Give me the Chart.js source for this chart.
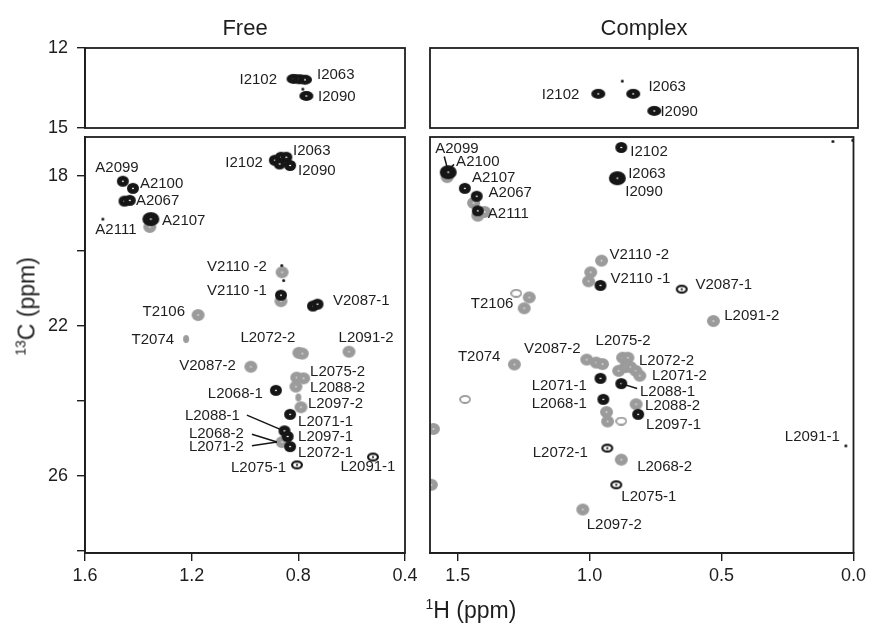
<!DOCTYPE html>
<html><head><meta charset="utf-8">
<script src="https://cdn.jsdelivr.net/npm/chart.js@4.4.0/dist/chart.umd.min.js"></script>
<style>
html,body{margin:0;padding:0;background:#fff}
#wrap{position:relative;width:870px;height:626px;overflow:hidden;background:#fff}
#wrap canvas{position:absolute;left:0;top:0}
.ax{position:absolute;font-family:'Liberation Sans',Arial,sans-serif;font-size:23px;color:#1e1e1e;white-space:nowrap;text-align:center;line-height:26px}
.ax sup{font-size:14px;vertical-align:0;position:relative;top:-9px}
</style></head><body>
<div id="wrap">
<canvas id="tl" width="870" height="626"></canvas>
<canvas id="bl" width="870" height="626"></canvas>
<canvas id="tr" width="870" height="626"></canvas>
<canvas id="br" width="870" height="626"></canvas>
<div class="ax" style="left:-72px;top:292px;width:200px;transform:rotate(-90deg)"><sup>13</sup>C (ppm)</div>
<div class="ax" style="left:371px;top:597px;width:200px"><sup>1</sup>H (ppm)</div>
</div>
<script>
// ---------- panel titles ----------
const panelTitles = ['Free', 'Complex'];

// ---------- axis ticks ----------
const topYTicks = [12, 15];
const bottomYTicks = [18, 20, 22, 24, 26, 28];
const bottomYLabeled = [18, 22, 26];
const freeXTicks = [1.6, 1.2, 0.8, 0.4];
const complexXTicks = [1.5, 1.0, 0.5, 0.0];

// ---------- peaks [1H ppm, 13C ppm] ----------
// Free, Ile region (12-15 ppm)
const freeTopBlack = [[0.818, 13.16], [0.797, 13.17], [0.775, 13.19], [0.77, 13.8]];
const freeTopDot = [[0.783, 13.54]];
// Complex, Ile region
const complexTopBlack = [[0.974, 13.72], [0.843, 13.72], [0.764, 14.36]];
const complexTopDot = [[0.884, 13.24]];

// Free, methyl region
const freeBlack = [
  [0.888, 17.58], [0.865, 17.5], [0.845, 17.5], [0.831, 17.72], [0.87, 17.68],
  [1.458, 18.14], [1.42, 18.33],
  [1.452, 18.67], [1.432, 18.65],
  [0.865, 21.18],
  [0.745, 21.47], [0.728, 21.42],
  [0.884, 23.72],
  [0.831, 24.36],
  [0.852, 24.8], [0.84, 24.95],
  [0.831, 25.22]
];
const freeBlackLarge = [[1.353, 19.15]];
const freeBlackRing = [[0.805, 25.71], [0.52, 25.5]];
const freeBlackDot = [[1.533, 19.15], [0.862, 20.39], [0.855, 20.79]];
const freeGray = [
  [1.357, 19.36], [0.861, 20.57], [0.865, 21.34], [1.176, 21.71],
  [0.798, 22.72], [0.785, 22.74], [0.61, 22.69], [0.978, 23.09],
  [0.806, 23.38], [0.78, 23.4], [0.809, 23.62], [0.79, 24.17],
  [0.861, 25.1]
];
const freeGraySmall = [[1.221, 22.35], [0.8, 23.91]];

// Complex, methyl region
const complexBlack = [
  [0.88, 17.24], [1.473, 18.33], [1.428, 18.54], [1.424, 18.93],
  [0.959, 20.92], [0.959, 23.4], [0.88, 23.54], [0.948, 23.96], [0.816, 24.36]
];
const complexBlackLarge = [[1.536, 17.9], [0.895, 18.06]];
const complexBlackRing = [[0.651, 21.02], [0.933, 25.26], [0.899, 26.24]];
const complexBlackDot = [[0.029, 25.2], [0.078, 17.08], [0.003, 17.05]];
const complexGray = [
  [1.54, 18.03], [1.44, 18.72], [1.398, 18.96], [1.424, 19.06],
  [0.955, 20.26], [0.996, 20.57], [1.004, 20.81],
  [1.229, 21.24], [1.248, 21.53], [0.531, 21.87], [1.285, 23.03],
  [1.011, 22.9], [0.975, 22.98], [0.951, 23.02],
  [0.875, 22.85], [0.855, 22.85], [0.865, 23.1], [0.845, 23.1], [0.825, 23.2], [0.81, 23.33], [0.89, 23.2],
  [0.824, 24.09], [0.936, 24.3], [0.932, 24.55],
  [0.88, 25.57], [1.026, 26.9], [1.592, 24.75], [1.6, 26.24]
];
const complexGrayRing = [[1.278, 21.13], [1.472, 23.96], [0.88, 24.54]];

// ---------- assignments [text, 1H, 13C, anchor] ----------
const freeTopLabels = [['I2102', 0.88, 13.16, 'right'], ['I2063', 0.73, 12.97, 'left'], ['I2090', 0.726, 13.8, 'left']];
const complexTopLabels = [['I2102', 1.045, 13.72, 'right'], ['I2063', 0.786, 13.42, 'left'], ['I2090', 0.741, 14.36, 'left']];
const freeLabels = [
  ['I2102', 0.933, 17.61, 'right'], ['I2063', 0.82, 17.29, 'left'], ['I2090', 0.801, 17.82, 'left'],
  ['A2099', 1.48, 17.74, 'center'], ['A2100', 1.394, 18.17, 'left'], ['A2067', 1.409, 18.64, 'left'],
  ['A2107', 1.311, 19.17, 'left'], ['A2111', 1.484, 19.41, 'center'],
  ['V2110 -2', 0.918, 20.39, 'right'], ['V2110 -1', 0.918, 21.02, 'right'], ['V2087-1', 0.67, 21.29, 'left'],
  ['T2106', 1.225, 21.58, 'right'], ['T2074', 1.266, 22.35, 'right'],
  ['L2072-2', 0.914, 22.29, 'center'], ['L2091-2', 0.546, 22.29, 'center'], ['V2087-2', 1.034, 23.03, 'right'],
  ['L2075-2', 0.756, 23.19, 'left'], ['L2088-2', 0.756, 23.62, 'left'], ['L2068-1', 0.933, 23.78, 'right'],
  ['L2097-2', 0.764, 24.04, 'left'], ['L2088-1', 1.019, 24.38, 'right'], ['L2071-1', 0.801, 24.54, 'left'],
  ['L2068-2', 1.004, 24.86, 'right'], ['L2097-1', 0.801, 24.94, 'left'], ['L2071-2', 1.004, 25.2, 'right'],
  ['L2072-1', 0.801, 25.36, 'left'], ['L2091-1', 0.539, 25.73, 'center'], ['L2075-1', 0.846, 25.76, 'right']
];
const freeLeaders = [[0.993, 24.38, 0.861, 24.78], [0.974, 24.89, 0.88, 25.1], [0.974, 25.2, 0.88, 25.1]];
const complexLabels = [
  ['A2099', 1.503, 17.24, 'center'], ['A2100', 1.506, 17.58, 'left'], ['A2107', 1.446, 18.03, 'left'],
  ['A2067', 1.383, 18.43, 'left'], ['A2111', 1.386, 18.99, 'left'],
  ['I2102', 0.846, 17.32, 'left'], ['I2063', 0.854, 17.9, 'left'], ['I2090', 0.865, 18.38, 'left'],
  ['V2110 -2', 0.925, 20.07, 'left'], ['V2110 -1', 0.921, 20.71, 'left'], ['V2087-1', 0.599, 20.87, 'left'],
  ['T2106', 1.289, 21.39, 'right'], ['L2091-2', 0.49, 21.71, 'left'], ['T2074', 1.338, 22.8, 'right'],
  ['V2087-2', 1.034, 22.58, 'right'], ['L2075-2', 0.873, 22.37, 'center'], ['L2072-2', 0.813, 22.9, 'left'],
  ['L2071-2', 0.764, 23.3, 'left'], ['L2071-1', 1.011, 23.56, 'right'], ['L2088-1', 0.809, 23.72, 'left'],
  ['L2068-1', 1.011, 24.04, 'right'], ['L2088-2', 0.79, 24.09, 'left'], ['L2097-1', 0.786, 24.62, 'left'],
  ['L2091-1', 0.156, 24.94, 'center'], ['L2072-1', 1.007, 25.36, 'right'], ['L2068-2', 0.82, 25.73, 'left'],
  ['L2075-1', 0.88, 26.53, 'left'], ['L2097-2', 1.011, 27.27, 'left']
];
const complexLeaders = [[1.551, 17.48, 1.54, 17.77], [1.514, 17.69, 1.529, 17.8], [0.88, 23.54, 0.82, 23.67]];

// ---------- rendering ----------
const FONT = "'Liberation Sans', Arial, sans-serif";
Chart.defaults.font.family = FONT;
Chart.defaults.color = '#1e1e1e';
Chart.defaults.animation = false;
const INK = '#161616', GRAY = '#9b9b9b', AXIS = '#1e1e1e';

function blob(w, h, color, kind) {
  const c = document.createElement('canvas');
  c.width = w + 2; c.height = h + 2;
  const g = c.getContext('2d');
  const cx = c.width / 2, cy = c.height / 2;
  g.beginPath(); g.ellipse(cx, cy, w / 2, h / 2, 0, 0, Math.PI * 2);
  if (kind === 'ring') {
    g.fillStyle = color; g.fill();
    g.beginPath(); g.ellipse(cx, cy, w / 2 - 2.2, h / 2 - 2.2, 0, 0, Math.PI * 2);
    g.fillStyle = '#fff'; g.fill();
    g.beginPath(); g.ellipse(cx, cy, 1.2, 1, 0, 0, Math.PI * 2); g.fillStyle = color; g.fill();
  } else if (kind === 'oring') {
    g.strokeStyle = color; g.lineWidth = 1.8; g.stroke();
  } else {
    g.fillStyle = color; g.fill();
    if (kind === 'dot') {
      g.beginPath(); g.ellipse(cx, cy, 1.1, 0.8, 0, 0, Math.PI * 2);
      g.fillStyle = color === INK ? '#fff' : '#e6e6e6'; g.fill();
    }
  }
  return c;
}
const S = {
  black: blob(12, 11, INK, 'dot'),
  blackLarge: blob(17, 14, INK, 'dot'),
  blackFlat: blob(14, 10, INK, 'dot'),
  blackRing: blob(12, 9, INK, 'ring'),
  blackDot: blob(3, 3, INK),
  gray: blob(13, 12, GRAY, 'dot'),
  grayRing: blob(10, 7, GRAY, 'oring'),
  graySmall: blob(6, 8, GRAY)
};

const pts = a => a.map(([x, y]) => ({ x, y }));
const ds = (arr, style, order) => ({ data: pts(arr), pointStyle: style, pointRadius: 6, order, showLine: false });

const frame = { id: 'frame', afterDraw(chart) {
  const a = chart.chartArea, g = chart.ctx;
  g.save(); g.strokeStyle = AXIS; g.lineWidth = 1.8;
  g.strokeRect(a.left, a.top, a.right - a.left, a.bottom - a.top); g.restore();
} };
const peakText = { id: 'peakText', afterDatasetsDraw(chart, args, opts) {
  const g = chart.ctx, x = chart.scales.x, y = chart.scales.y;
  g.save();
  g.strokeStyle = INK; g.lineWidth = 1.5;
  (opts.lines || []).forEach(([h1, c1, h2, c2]) => {
    g.beginPath(); g.moveTo(x.getPixelForValue(h1), y.getPixelForValue(c1));
    g.lineTo(x.getPixelForValue(h2), y.getPixelForValue(c2)); g.stroke();
  });
  g.font = '15px ' + FONT; g.fillStyle = AXIS; g.textBaseline = 'alphabetic';
  (opts.labels || []).forEach(([t, h, c, al]) => {
    g.textAlign = al;
    g.fillText(t, x.getPixelForValue(h), y.getPixelForValue(c) + 0.358 * 15);
  });
  g.restore();
} };

const gridOpts = { drawOnChartArea: false, drawTicks: true, tickLength: 8, color: AXIS, lineWidth: 1.4 };
const borderOpts = { display: true, color: AXIS, width: 1.8 };
function xScale(min, max, ticks, show) {
  return { type: 'linear', min, max, reverse: true, display: show,
    afterBuildTicks: s => { s.ticks = ticks.map(v => ({ value: v })); },
    afterFit: s => { if (show) s.height = 40; },
    grid: gridOpts, border: borderOpts,
    ticks: { autoSkip: false, maxRotation: 0, padding: 4, font: { size: 18 }, color: AXIS, callback: v => Number(v).toFixed(1) } };
}
function yScale(min, max, ticks, labeled, show) {
  return { type: 'linear', min, max, reverse: true, display: show,
    afterBuildTicks: s => { s.ticks = ticks.map(v => ({ value: v })); },
    afterFit: s => { if (show) s.width = 85; },
    grid: gridOpts, border: borderOpts,
    ticks: { autoSkip: false, padding: 9, font: { size: 18 }, color: AXIS, callback: v => labeled.includes(v) ? String(v) : '' } };
}
function make(id, datasets, scales, padding, title, labels, lines) {
  new Chart(document.getElementById(id), {
    type: 'scatter',
    data: { datasets },
    options: {
      responsive: false, animation: false, events: [],
      layout: { padding },
      scales,
      plugins: {
        legend: { display: false }, tooltip: { enabled: false },
        title: title ? { display: true, text: title, fullSize: false, color: AXIS,
          font: { size: 22, weight: 'normal' }, padding: { top: 16, bottom: 5.6 } } : { display: false },
        peakText: { labels, lines }
      }
    },
    plugins: [frame, peakText]
  });
}

make('tl',
  [ds(freeTopBlack, S.blackFlat, 0), ds(freeTopDot, S.blackDot, 1)],
  { x: xScale(0.4, 1.6, freeXTicks, false), y: yScale(12, 15, topYTicks, topYTicks, true) },
  { left: 0, right: 465, top: 0, bottom: 498 }, panelTitles[0], freeTopLabels, []);
make('bl',
  [ds(freeBlack, S.black, 0), ds(freeBlackLarge, S.blackLarge, 0), ds(freeBlackRing, S.blackRing, 0), ds(freeBlackDot, S.blackDot, 0),
   ds(freeGray, S.gray, 2), ds(freeGraySmall, S.graySmall, 2)],
  { x: xScale(0.4, 1.6, freeXTicks, true), y: yScale(16.96, 28.06, bottomYTicks, bottomYLabeled, true) },
  { left: 0, right: 465, top: 137, bottom: 33 }, null, freeLabels, freeLeaders);
make('tr',
  [ds(complexTopBlack, S.blackFlat, 0), ds(complexTopDot, S.blackDot, 1)],
  { x: xScale(0, 1.605, complexXTicks, false), y: yScale(12, 15, topYTicks, topYTicks, false) },
  { left: 430, right: 12, top: 0, bottom: 498 }, panelTitles[1], complexTopLabels, []);
make('br',
  [ds(complexBlack, S.black, 0), ds(complexBlackLarge, S.blackLarge, 0), ds(complexBlackRing, S.blackRing, 0), ds(complexBlackDot, S.blackDot, 0),
   ds(complexGray, S.gray, 2), ds(complexGrayRing, S.grayRing, 2)],
  { x: xScale(0, 1.605, complexXTicks, true), y: yScale(16.96, 28.06, bottomYTicks, bottomYLabeled, false) },
  { left: 430, right: 12, top: 137, bottom: 33 }, null, complexLabels, complexLeaders);
</script>
</body></html>
